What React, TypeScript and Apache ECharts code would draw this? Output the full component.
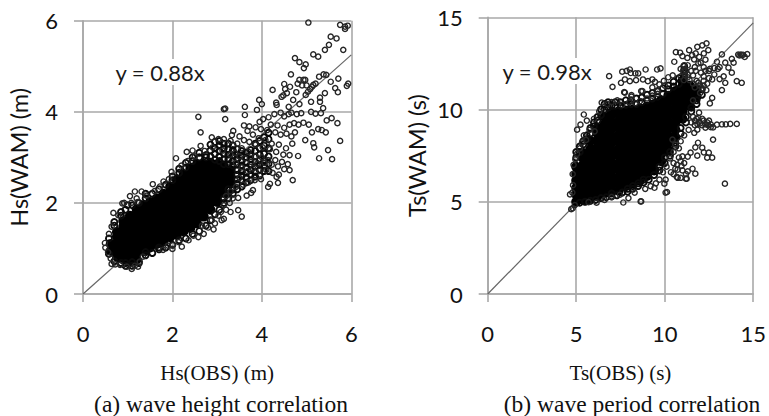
import React, { useEffect, useRef } from "react";
import * as echarts from "echarts";

type Pt = [number, number];
type Col = [number, number[]];

const hsTicks = { min: 0, max: 6, interval: 2 };
const tsTicks = { min: 0, max: 15, interval: 5 };
const hsFit: Pt[] = [[0, 0], [6, 5.25]];
const tsFit: Pt[] = [[0, 0], [15, 14.7]];

// Dense black body of the height cloud, column by column
const hsCore: Col[] = [
  [0.62, [0.95, 1.1]],
  [0.76, [0.82, 0.97, 1.12, 1.26, 1.36]],
  [0.9, [0.76, 0.91, 1.05, 1.2, 1.34, 1.48, 1.6]],
  [1.05, [0.72, 0.86, 1.01, 1.15, 1.3, 1.44, 1.58, 1.72]],
  [1.2, [0.76, 0.9, 1.05, 1.2, 1.34, 1.49, 1.63, 1.76, 1.86]],
  [1.35, [0.95, 1.09, 1.24, 1.38, 1.52, 1.67, 1.81, 1.95]],
  [1.5, [1.02, 1.17, 1.31, 1.46, 1.6, 1.75, 1.89, 2.02]],
  [1.65, [1.1, 1.24, 1.39, 1.53, 1.68, 1.82, 1.97, 2.1]],
  [1.8, [1.15, 1.3, 1.44, 1.59, 1.73, 1.88, 2.02, 2.2]],
  [1.95, [1.25, 1.39, 1.54, 1.68, 1.83, 1.97, 2.12, 2.26, 2.36]],
  [2.1, [1.3, 1.45, 1.59, 1.74, 1.88, 2.03, 2.17, 2.32, 2.5]],
  [2.25, [1.38, 1.52, 1.67, 1.81, 1.96, 2.1, 2.25, 2.39, 2.54, 2.62]],
  [2.4, [1.45, 1.6, 1.74, 1.89, 2.03, 2.18, 2.32, 2.47, 2.61, 2.75]],
  [2.55, [1.55, 1.7, 1.84, 1.99, 2.13, 2.28, 2.42, 2.57, 2.71, 2.85]],
  [2.7, [1.7, 1.84, 1.99, 2.13, 2.28, 2.42, 2.57, 2.71, 2.86]],
  [2.85, [1.85, 2.0, 2.14, 2.29, 2.43, 2.58, 2.72, 2.88]],
  [3.0, [2.02, 2.17, 2.31, 2.46, 2.6, 2.74, 2.85]],
  [3.15, [2.22, 2.37, 2.51, 2.66, 2.8]],
  [3.3, [2.42, 2.56, 2.72]],
];

// Thicker open circles where the height cloud thins out, and its edge
const hsDense: Col[] = [
  [0.58, [0.88, 1.22]], [0.7, [0.72, 1.5, 1.58]], [0.85, [0.68, 1.72, 1.8]], [0.95, [0.62, 0.68, 1.85]],
  [1.0, [1.95]], [1.1, [0.62, 0.7, 1.95]], [1.25, [0.68, 2.0]], [1.4, [0.85, 0.92, 2.1, 2.2]], [1.55, [0.9, 2.2]],
  [1.7, [0.98, 1.02, 2.3]], [1.85, [1.02, 2.4]], [2.0, [1.08, 2.5, 2.58]], [2.15, [1.18, 2.66, 2.75]],
  [2.3, [1.22, 2.78, 2.88]], [2.45, [1.32, 2.92, 3.0]], [2.6, [1.38, 3.0, 3.1]], [2.75, [1.5, 3.05, 3.0]],
  [2.85, [3.02, 3.15, 3.28, 1.62]],
  [2.95, [1.75, 2.95, 3.08, 3.2, 3.34]],
  [3.05, [1.85, 2.92, 3.02, 3.14, 3.26, 3.36]],
  [3.15, [2.0, 2.1, 2.85, 2.96, 3.08, 3.2, 3.3]],
  [3.25, [2.1, 2.2, 2.3, 2.85, 2.96, 3.06, 3.18, 3.3]],
  [3.35, [2.2, 2.3, 2.82, 2.92, 3.04, 3.16, 3.26]],
  [3.45, [2.3, 2.42, 2.52, 2.62, 2.72, 2.84, 2.96, 3.06, 3.18]],
  [3.55, [2.36, 2.48, 2.6, 2.7, 2.82, 2.92, 3.04, 3.14]],
  [3.65, [2.45, 2.56, 2.66, 2.78, 2.88, 3.0, 3.1]],
  [3.75, [2.5, 2.62, 2.72, 2.84, 2.96, 3.06, 3.16]],
  [3.85, [2.58, 2.68, 2.8, 2.9, 3.02, 3.14, 3.3]],
  [3.95, [2.6, 2.72, 2.84, 2.94, 3.06, 3.2, 3.36]],
  [4.05, [2.7, 2.82, 2.92, 3.08, 3.26, 3.44]],
  [4.15, [2.7, 2.86, 3.02, 3.2, 3.4, 3.54]],
];

// Open circles: the fringe of the height cloud and the scattered points
const hsPoints: Pt[] = [
  [5.04, 5.96], [5.75, 5.91], [5.86, 5.87], [5.92, 5.89], [5.86, 5.82], [5.54, 5.65], [5.67, 5.61], [5.5, 5.47],
  [5.41, 5.36], [5.82, 5.36], [5.15, 5.26], [5.26, 5.21], [4.74, 5.18], [4.84, 5.09], [4.98, 5.04], [4.94, 4.96],
  [4.65, 4.82], [5.38, 4.82], [5.28, 4.77], [5.44, 4.81], [5.71, 4.73], [5.54, 4.66], [5.93, 4.62], [5.9, 4.57],
  [5.64, 4.52], [5.7, 4.43], [5.41, 4.41], [5.3, 4.31], [4.84, 4.7], [4.93, 4.7], [4.97, 4.7], [4.8, 4.62],
  [4.9, 4.58], [5.0, 4.58], [5.15, 4.59], [5.12, 4.55], [5.2, 4.62], [5.08, 4.5], [5.03, 4.44], [4.98, 4.37],
  [4.77, 4.43], [4.63, 4.55], [4.5, 4.61], [4.52, 4.5], [4.24, 4.48], [4.56, 4.41], [4.44, 4.33], [4.48, 4.36],
  [4.32, 4.2], [4.33, 4.15], [3.94, 4.26], [4.0, 4.17], [4.7, 4.26], [4.84, 4.17], [5.1, 4.22], [5.3, 4.22],
  [3.62, 4.11], [3.15, 4.06], [3.18, 4.07], [3.62, 3.93], [3.18, 3.84], [3.89, 4.04], [4.6, 4.11], [5.37, 4.08],
  [5.1, 4.0], [5.2, 3.96], [5.32, 3.97], [2.58, 3.89], [2.63, 3.55], [5.69, 3.75], [5.56, 3.86], [5.45, 3.81],
  [5.34, 3.6], [5.43, 3.55], [5.75, 3.36], [5.26, 3.62], [5.15, 3.31], [5.17, 3.22], [4.97, 3.38], [4.81, 3.03],
  [5.28, 2.98], [5.48, 3.16], [5.57, 2.96], [5.12, 3.55], [5.05, 3.72], [4.93, 3.76], [4.82, 3.72], [4.72, 3.75],
  [4.6, 3.95], [4.66, 3.98], [4.78, 3.95], [4.88, 3.97], [4.5, 3.9], [4.42, 3.98], [4.28, 3.95], [4.15, 3.88],
  [4.03, 3.84], [3.95, 3.78], [4.2, 3.72], [4.35, 3.7], [4.5, 3.65], [4.62, 3.72], [4.74, 3.55], [4.66, 3.46],
  [4.55, 3.52], [4.42, 3.5], [4.3, 3.55], [4.12, 3.6], [3.98, 3.62], [3.86, 3.66], [3.72, 3.68], [3.6, 3.7],
  [3.68, 3.58], [3.8, 3.5], [3.93, 3.42], [4.08, 3.38], [4.22, 3.3], [4.38, 3.28], [4.54, 3.2], [4.68, 3.3],
  [4.62, 3.05], [4.48, 3.06], [4.32, 3.12], [4.18, 3.18], [4.02, 3.22], [3.86, 3.28], [3.72, 3.34], [3.6, 3.38],
  [3.5, 3.46], [3.36, 3.58], [3.45, 3.3], [3.3, 3.36], [3.15, 3.4], [3.03, 3.4], [2.88, 3.44], [3.33, 3.49],
  [3.55, 3.2], [3.7, 3.12], [3.85, 3.02], [4.0, 3.0], [4.14, 2.94], [4.3, 2.94], [4.45, 2.9], [4.58, 2.85],
  [4.62, 2.72], [4.5, 2.74], [4.36, 2.8], [4.22, 2.84], [4.06, 2.88], [3.9, 2.86], [3.76, 2.9], [3.62, 2.98],
  [3.5, 3.02], [3.4, 3.1], [3.55, 2.78], [3.68, 2.7], [3.8, 2.76], [3.95, 2.7], [4.1, 2.72], [4.24, 2.66],
  [4.38, 2.62], [4.69, 2.5], [4.36, 2.44], [4.33, 2.57], [4.14, 2.35], [4.18, 2.42], [3.8, 2.28], [3.76, 2.22],
  [3.66, 2.16], [3.47, 2.11], [3.47, 1.84], [3.55, 1.7], [3.3, 1.8], [3.35, 2.1], [3.58, 2.4], [3.7, 2.45],
  [3.84, 2.5], [3.98, 2.52], [3.5, 2.55], [3.42, 2.35], [3.3, 2.25], [3.2, 2.15], [3.15, 1.95], [3.28, 2.0],
  [3.1, 1.62], [3.15, 1.65], [3.2, 1.85], [3.08, 1.8], [2.92, 1.42], [2.95, 1.55], [3.03, 1.72], [2.7, 1.32],
  [2.58, 1.25], [2.47, 1.28], [2.8, 1.46], [2.88, 1.62], [2.66, 1.5], [2.21, 1.04], [2.0, 0.99], [2.01, 1.07],
  [1.79, 0.97], [2.36, 1.18], [2.14, 1.14], [1.9, 1.06], [1.34, 0.82], [1.27, 0.71], [1.09, 0.55], [1.23, 0.6],
  [1.16, 0.62], [0.98, 0.6], [0.83, 0.64], [0.64, 0.66], [0.72, 0.65], [0.49, 1.12], [0.5, 1.02], [0.58, 1.32],
  [0.64, 1.48], [0.56, 0.92], [0.62, 0.78], [0.88, 1.99], [0.92, 2.0], [1.05, 2.15], [1.16, 2.25], [1.31, 2.25],
  [1.2, 2.1], [0.68, 1.78], [0.79, 1.73], [1.08, 2.0], [1.22, 2.02], [1.56, 2.41], [1.42, 2.16], [1.6, 2.26],
  [1.8, 2.47], [1.72, 2.36], [1.98, 2.68], [1.92, 2.52], [2.08, 2.98], [2.32, 3.12], [2.45, 3.15], [2.63, 3.25],
  [2.2, 2.82], [2.34, 2.92], [2.5, 3.02], [2.72, 3.14], [2.9, 3.22], [3.12, 3.15], [3.3, 3.06], [3.42, 2.88],
];

// Dense black body of the period cloud, column by column
const tsCore: Col[] = [
  [5.0, [5.0, 5.4, 5.75, 6.15, 6.5, 6.9]],
  [5.4, [5.1, 5.5, 5.85, 6.25, 6.6, 7.0, 7.35, 7.65]],
  [5.8, [5.2, 5.6, 5.95, 6.35, 6.7, 7.1, 7.45, 7.85, 8.3]],
  [6.2, [5.3, 5.7, 6.05, 6.45, 6.8, 7.2, 7.55, 7.95, 8.3, 8.7, 9.0]],
  [6.6, [5.45, 5.85, 6.2, 6.6, 6.95, 7.35, 7.7, 8.1, 8.45, 8.85, 9.2, 9.6]],
  [7.0, [5.55, 5.95, 6.3, 6.7, 7.05, 7.45, 7.8, 8.2, 8.55, 8.95, 9.3, 9.7, 9.85]],
  [7.4, [5.6, 6.0, 6.35, 6.75, 7.1, 7.5, 7.85, 8.25, 8.6, 9.0, 9.35, 9.75, 9.9]],
  [7.8, [5.85, 6.25, 6.6, 7.0, 7.35, 7.75, 8.1, 8.5, 8.85, 9.25, 9.6, 9.95]],
  [8.2, [6.0, 6.4, 6.75, 7.15, 7.5, 7.9, 8.25, 8.65, 9.0, 9.4, 9.75, 10.0]],
  [8.6, [6.15, 6.55, 6.9, 7.3, 7.65, 8.05, 8.4, 8.8, 9.15, 9.55, 9.9, 10.05]],
  [9.0, [6.4, 6.8, 7.15, 7.55, 7.9, 8.3, 8.65, 9.05, 9.4, 9.8, 10.15]],
  [9.4, [6.7, 7.1, 7.45, 7.85, 8.2, 8.6, 8.95, 9.35, 9.7, 10.1, 10.3]],
  [9.8, [7.2, 7.6, 7.95, 8.35, 8.7, 9.1, 9.45, 9.85, 10.2, 10.5]],
  [10.2, [7.8, 8.2, 8.55, 8.95, 9.3, 9.7, 10.05, 10.45, 10.75]],
  [10.6, [8.5, 8.9, 9.25, 9.65, 10.0, 10.4, 10.75, 11.0]],
  [11.0, [9.5, 9.9, 10.25, 10.65, 11.0, 11.25, 11.55]],
  [11.4, [10.2, 10.55, 10.95, 11.3]],
  [11.8, [10.7, 11.1]],
];

// Thicker open circles along the edge of the period cloud
const tsDense: Col[] = [
  [5.0, [7.4, 7.7]], [5.2, [4.95, 7.7, 8.0]], [5.4, [8.1, 8.3]], [5.5, [5.0]], [5.6, [8.4, 8.6]], [5.8, [5.05, 8.7, 9.0]],
  [6.0, [9.1, 9.3]], [6.1, [5.1]], [6.2, [9.4, 9.6]], [6.4, [5.2, 9.7, 10.0]], [6.6, [10.0, 10.3]], [6.7, [5.25]],
  [6.8, [10.1, 10.4]], [7.0, [5.3, 5.45, 10.2]], [7.2, [10.2, 10.4]], [7.3, [5.35]], [7.5, [10.2, 10.4]], [7.6, [5.5]],
  [7.8, [10.25, 10.5]], [7.9, [5.55, 5.7]], [8.1, [10.3, 10.5]], [8.2, [5.7, 5.85]], [8.4, [10.3, 10.6]], [8.5, [5.85, 6.0]],
  [8.7, [10.4, 10.65]], [8.8, [6.05, 6.2]], [9.0, [10.5, 10.8]], [9.1, [6.2]], [9.3, [10.6, 10.9]], [9.4, [6.45]],
  [9.6, [10.7, 11.0]], [9.7, [6.7, 6.9]], [9.9, [10.85, 11.15]], [10.0, [7.1, 7.4]], [10.2, [11.1, 11.3]], [10.3, [7.5, 7.7]],
  [10.5, [11.25, 11.5]], [10.6, [8.0, 8.2]], [10.8, [11.4, 11.7]], [10.9, [8.7, 9.0]], [11.1, [11.75, 11.95, 12.15, 12.35]],
  [11.2, [9.3, 9.6]], [11.5, [9.9, 10.1]], [11.8, [10.3, 10.5]], [12.1, [10.8, 11.1]],
];

// Open circles: the fringe of the period cloud and the scattered points
const tsPoints: Pt[] = [
  [6.86, 11.81], [7.05, 11.23], [7.6, 12.05], [7.85, 12.1], [8.03, 12.17], [8.08, 11.98], [8.34, 11.96], [8.5, 11.96],
  [8.92, 12.17], [9.57, 12.17], [9.76, 12.23], [7.53, 11.45], [7.75, 11.63], [8.03, 11.54], [8.38, 11.59], [8.77, 11.63],
  [9.05, 11.54], [9.3, 11.63], [9.45, 11.5], [9.7, 11.36], [9.95, 11.55], [10.2, 11.75], [10.45, 11.85], [7.71, 10.94],
  [8.12, 10.78], [8.74, 11.0], [9.3, 11.2], [9.6, 11.0], [10.0, 11.3], [10.63, 13.11], [10.87, 13.08], [10.54, 12.59],
  [11.38, 13.22], [11.84, 13.4], [12.12, 13.48], [12.36, 13.59], [12.46, 13.22], [12.21, 13.04], [11.75, 13.04], [11.28, 12.8],
  [11.66, 12.72], [12.03, 12.54], [11.0, 12.9], [11.55, 12.95], [11.95, 12.85], [12.3, 12.7], [13.23, 12.99], [12.95, 12.59],
  [13.42, 12.54], [13.79, 12.75], [13.89, 12.54], [13.6, 12.27], [13.79, 12.0], [13.33, 11.8], [13.42, 11.45], [14.07, 11.54],
  [14.35, 11.45], [13.23, 11.05], [12.68, 11.63], [12.68, 10.63], [12.55, 10.33], [14.15, 12.98], [14.22, 12.93], [14.3, 12.98],
  [14.36, 12.95], [14.43, 12.97], [14.66, 13.0], [14.52, 12.85], [13.1, 12.3], [13.0, 12.2], [12.8, 12.25], [12.55, 12.2],
  [12.3, 12.1], [12.05, 12.0], [11.75, 12.1], [11.6, 11.85], [12.2, 11.8], [12.5, 11.7], [12.8, 11.9], [13.1, 11.65],
  [11.1, 12.4], [11.05, 12.1], [11.15, 11.85], [11.08, 11.6], [11.2, 12.1], [10.9, 11.8], [11.3, 11.75], [11.9, 11.45],
  [12.2, 11.3], [12.35, 11.05], [12.0, 10.9], [11.6, 10.5], [14.07, 9.22], [13.7, 9.22], [13.45, 9.2], [13.23, 9.2],
  [12.95, 9.18], [12.73, 9.03], [12.4, 9.3], [12.12, 9.5], [12.3, 9.02], [11.95, 9.35], [11.8, 9.5], [11.7, 9.15],
  [12.6, 9.2], [12.73, 8.37], [11.88, 8.2], [11.73, 7.95], [12.12, 7.93], [12.21, 7.68], [12.49, 7.66], [12.68, 7.39],
  [12.4, 7.39], [11.84, 7.5], [11.46, 7.66], [13.4, 5.98], [11.73, 6.52], [11.24, 6.25], [11.57, 6.79], [11.3, 6.65],
  [11.0, 6.7], [10.73, 6.74], [10.9, 6.3], [10.68, 6.35], [10.13, 5.53], [8.64, 5.02], [10.9, 8.28], [10.6, 8.1],
  [11.0, 7.46], [11.3, 7.45], [11.67, 8.74], [11.84, 8.91], [11.94, 9.83], [11.5, 9.3], [11.35, 8.9], [11.1, 8.6],
  [10.8, 7.9], [10.5, 7.7], [10.3, 7.35], [10.1, 6.9], [10.5, 7.1], [10.35, 6.6], [9.9, 6.6], [9.7, 6.2],
  [10.05, 6.2], [9.5, 6.0], [9.2, 5.85], [10.44, 8.37], [5.43, 9.73], [5.24, 9.18], [5.05, 8.91], [5.6, 9.4],
  [5.43, 8.6], [5.33, 8.22], [6.04, 8.82], [5.75, 8.9], [5.55, 8.35], [5.2, 7.9], [5.05, 7.6], [4.95, 7.3],
  [4.85, 7.0], [4.8, 6.5], [4.82, 5.9], [4.78, 5.5], [4.65, 5.4], [4.8, 4.65], [4.92, 4.82], [4.72, 4.6],
  [6.44, 10.38], [6.3, 9.9], [6.0, 9.5], [7.0, 10.4], [6.75, 10.3], [7.32, 10.5], [7.75, 10.92], [8.12, 10.7],
  [8.67, 11.0], [8.6, 10.45], [7.6, 10.25], [8.0, 10.4], [8.35, 10.35], [9.0, 10.6], [9.3, 10.75], [9.6, 10.85],
  [6.15, 4.95], [5.7, 4.98], [7.66, 4.96], [8.67, 5.02], [10.05, 5.5], [7.95, 5.2], [7.47, 5.38], [9.42, 5.76],
  [9.98, 5.98], [11.2, 6.25], [10.73, 6.3], [6.6, 5.1], [7.0, 5.25], [8.3, 5.5], [8.9, 5.7],
  [11.4, 11.6], [11.6, 11.4], [11.8, 11.55], [12.0, 11.3], [12.2, 11.55], [12.4, 11.4], [12.1, 11.15], [11.7, 11.2],
  [11.3, 11.9], [11.5, 12.1], [11.7, 12.3], [11.9, 12.5], [11.3, 12.4], [10.9, 12.2], [12.2, 12.3], [12.5, 12.1],
  [11.6, 9.6], [11.7, 9.4], [11.85, 9.2], [11.9, 9.55], [12.0, 9.25], [12.1, 9.15], [12.2, 9.4], [12.3, 9.2],
  [12.45, 9.15], [12.5, 9.4], [12.6, 9.05], [10.8, 7.4], [10.9, 7.2], [10.7, 7.0], [10.95, 6.95], [11.1, 7.1],
  [11.2, 6.5], [10.5, 6.5], [10.6, 6.8],
];

const expand = (cols: Col[]): Pt[] => cols.flatMap(([x, ys]) => ys.map((y): Pt => [x, y]));

const GRID = "#a9a9a9";
const LABEL = "Lato, 'Open Sans', sans-serif";
const SERIF = "'Liberation Serif', serif";

function xAxis(gridIndex: number, ticks: typeof hsTicks, name: string) {
  return {
    type: "value" as const, gridIndex, ...ticks, name, nameLocation: "middle" as const, nameGap: 68,
    nameTextStyle: { fontFamily: SERIF, fontSize: 21, color: "#111" },
    axisLine: { show: true, onZero: false, lineStyle: { color: GRID, width: 1.6 } },
    axisTick: { show: true, length: 8, lineStyle: { color: GRID, width: 1.6 } },
    splitLine: { show: true, lineStyle: { color: GRID, width: 1.6 } },
    axisLabel: { margin: 28, fontFamily: LABEL, fontSize: 22, color: "#111" },
  };
}

function yAxis(gridIndex: number, ticks: typeof hsTicks, name: string, nameGap: number) {
  return {
    type: "value" as const, gridIndex, ...ticks, name, nameLocation: "middle" as const, nameGap,
    nameTextStyle: { fontFamily: LABEL, fontSize: 23.5, color: "#111" },
    axisLine: { show: true, onZero: false, lineStyle: { color: GRID, width: 1.6 } },
    axisTick: { show: true, length: 9, lineStyle: { color: GRID, width: 1.6 } },
    splitLine: { show: true, lineStyle: { color: GRID, width: 1.6 } },
    axisLabel: { margin: 25, fontFamily: LABEL, fontSize: 22, color: "#111" },
  };
}

function fit(i: number, data: Pt[]) {
  return {
    type: "line" as const, xAxisIndex: i, yAxisIndex: i, data, symbol: "none", z: 2,
    lineStyle: { color: "#666", width: 1.2 },
  };
}
function core(i: number, cols: Col[]) {
  return {
    type: "scatter" as const, xAxisIndex: i, yAxisIndex: i, data: expand(cols), symbolSize: 10, z: 3,
    itemStyle: { color: "#000", opacity: 1 },
  };
}
function open(i: number, data: Pt[], size: number, width: number, color: string) {
  return {
    type: "scatter" as const, xAxisIndex: i, yAxisIndex: i, data, symbolSize: size, z: 4,
    itemStyle: { color: "rgba(0,0,0,0)", borderColor: color, borderWidth: width, opacity: 1 },
  };
}
function label(text: string, x: number, y: number, font: string, size: number) {
  return {
    type: "text" as const, x, y, z: 10,
    style: { text, x: 0, y: 0, align: "center" as const, verticalAlign: "middle" as const, font: `${size}px ${font}`, fill: "#111" },
  };
}
function equation(text: string, x: number, y: number) {
  return {
    type: "text" as const, x, y, z: 10,
    style: {
      text, x: 0, y: 0, align: "center" as const, verticalAlign: "middle" as const, font: `22px ${LABEL}`, fill: "#1a1a1a",
      backgroundColor: "#fff", padding: [2, 3],
    },
  };
}

export default function App() {
  const ref = useRef<HTMLDivElement>(null);
  useEffect(() => {
    document.body.style.margin = "0";
    const chart = echarts.init(ref.current!, undefined, { renderer: "svg" });
    chart.setOption({
      animation: false,
      backgroundColor: "#fff",
      grid: [
        { left: 83, top: 20.7, width: 268.3, height: 273.3 },
        { left: 487.7, top: 17.3, width: 268, height: 276.7 },
      ],
      xAxis: [xAxis(0, hsTicks, "Hs(OBS) (m)"), xAxis(1, tsTicks, "Ts(OBS) (s)")],
      yAxis: [yAxis(0, hsTicks, "Hs(WAM) (m)", 52), yAxis(1, tsTicks, "Ts(WAM) (s)", 59)],
      series: [
        fit(0, hsFit), core(0, hsCore),
        open(0, expand(hsDense), 6, 1.9, "#0a0a0a"), open(0, hsPoints, 5.2, 1.4, "#262626"),
        fit(1, tsFit), core(1, tsCore),
        open(1, expand(tsDense), 6, 1.9, "#0a0a0a"), open(1, tsPoints, 5.2, 1.4, "#262626"),
      ],
      graphic: [
        equation("y = 0.88x", 160, 72),
        equation("y = 0.98x", 547, 71),
        label("(a) wave height correlation", 221, 404, SERIF, 23.5),
        label("(b) wave period correlation", 632, 404, SERIF, 23.5),
      ],
    });
    return () => chart.dispose();
  }, []);
  return <div ref={ref} style={{ width: 769, height: 416 }} />;
}
